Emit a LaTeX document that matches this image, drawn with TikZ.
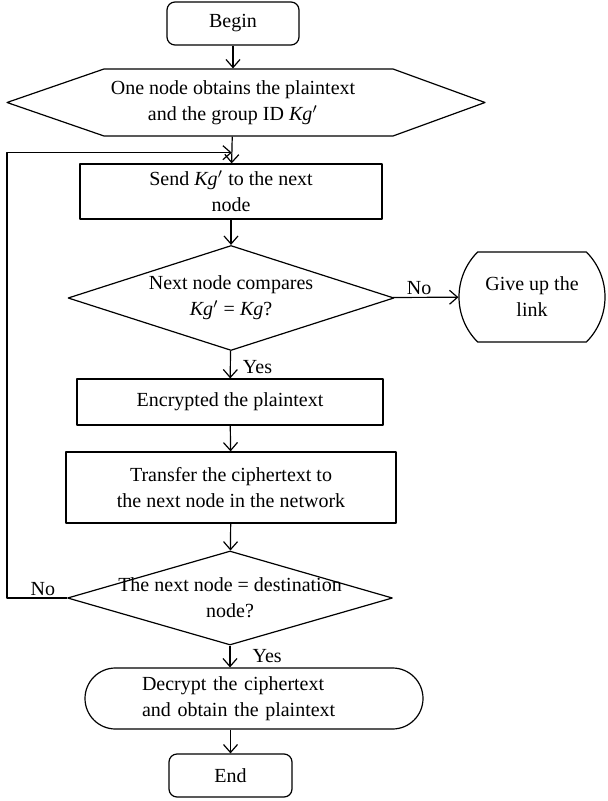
\documentclass[tikz,border=0pt]{standalone}
\usepackage{fontspec}
\setmainfont{Liberation Serif}
\usetikzlibrary{shapes.geometric,shapes.misc,arrows.meta,positioning,calc}
\begin{document}
\begin{tikzpicture}[x=0.5pt,y=-0.5pt,line width=0.6pt,line join=round,
  font=\fontsize{10}{13}\selectfont,
  >={Straight Barb[length=4pt,width=7pt]},
  term/.style={draw,rounded corners=4pt,minimum width=66pt,minimum height=21.5pt,inner sep=0pt},
  proc/.style={draw,align=center,inner sep=0pt},
  decide/.style={draw,diamond,aspect=3.45,align=center,inner sep=-3pt},
  capsule/.style={draw,rounded rectangle,align=center,inner sep=0pt},
  lbl/.style={inner sep=1pt}]
\useasboundingbox (0,0) rectangle (607,801);
% boxes
\node[term] (begin) at (233,23.5) {Begin};
\node[minimum height=33.5pt,inner sep=0pt,align=center] (hex) at (233,102.5) {One node obtains the plaintext\\and the group ID \textit{Kg}$'$};
\draw (7,102.5) -- (104,69) -- (393,69) -- (485,102.5) -- (393,136) -- (104,136) -- cycle;
\node[proc,minimum width=151pt,minimum height=27.5pt] (send) at (231,191.5) {Send \textit{Kg}$'$ to the next\\node};
\node[decide,minimum width=163pt,minimum height=52.5pt] (cmp) at (231,298) {Next node compares\\\textit{Kg}$'$ = \textit{Kg}?};
\node[capsule,rounded rectangle arc length=90,minimum width=73pt,minimum height=45pt] (giveup) at (532,297) {Give up the\\link};
\node[proc,minimum width=153pt,minimum height=23pt] (enc) at (230,402) {Encrypted the plaintext};
\node[proc,minimum width=165pt,minimum height=35.5pt] (trans) at (231,487.5) {Transfer the ciphertext to\\the next node in the network};
\node[decide,minimum width=162.5pt,minimum height=47pt] (dest) at (230,598) {The next node = destination\\node?};
\node[capsule,text width=112pt,align=left,minimum width=169pt,minimum height=30.5pt] (dec) at (254,698.5) {Decrypt the ciphertext\\and obtain the plaintext};
\node[term,minimum width=61.5pt] (end) at (230.5,775.5) {End};
\coordinate (loopin) at ($(hex.south)!0.6!(send.north)$);
% arrows
\draw[->] (begin) -- (hex);
\draw[->] (hex) -- (send);
\draw[->] (send) -- (cmp);
\draw[->] (cmp) -- node[lbl,pos=0.4,above]{No} (giveup);
\draw[->] (cmp) -- node[lbl,pos=0.6,right=5pt]{Yes} (enc);
\draw[->] (enc) -- (trans);
\draw[->] (trans) -- (dest);
\draw[->] (dest.west) -- node[lbl,pos=0.4,above]{No} ++(-60,0) |- (loopin);
\draw[->] (dest.south) -- node[lbl,pos=0.5,right=10pt]{Yes} (dest.south |- dec.north);
\draw[->] (dec.south -| end.north) -- (end.north);
\end{tikzpicture}
\end{document}
